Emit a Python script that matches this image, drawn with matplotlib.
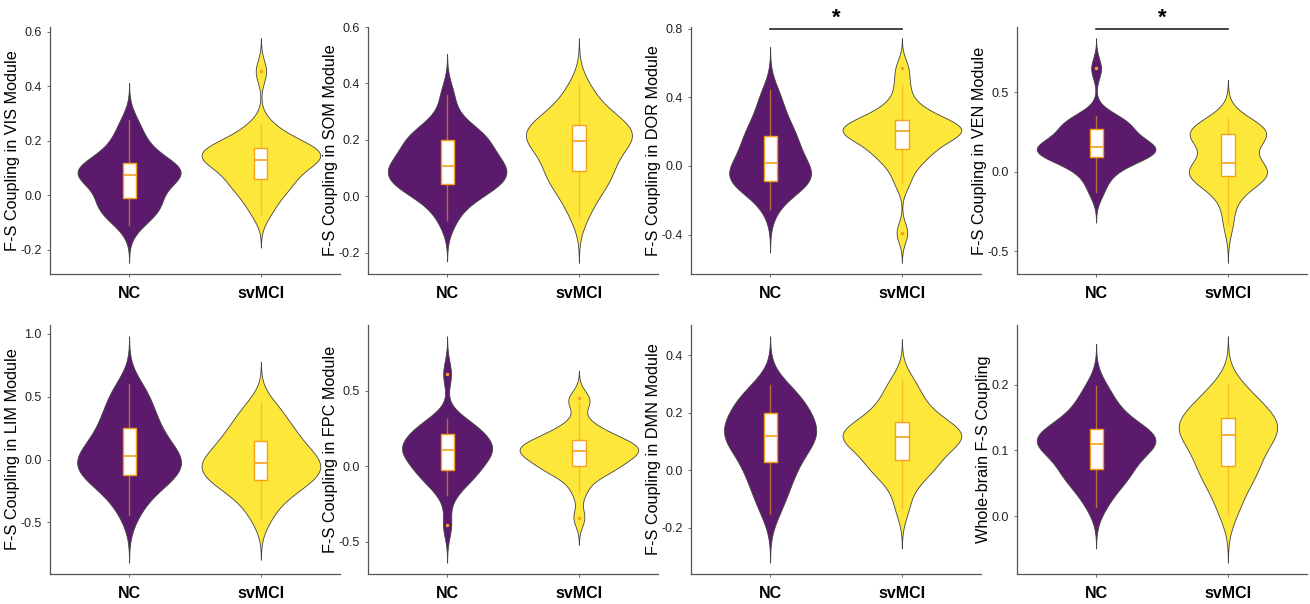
import numpy as np
import matplotlib
matplotlib.use("Agg")
import matplotlib.pyplot as plt
import matplotlib.transforms as mtransforms

plt.rcParams['font.family'] = ['Liberation Sans', 'DejaVu Sans']

# group labels and panel y-axis titles
groups = ["NC", "svMCI"]
ylabels = [
    "F-S Coupling in VIS Module", "F-S Coupling in SOM Module",
    "F-S Coupling in DOR Module", "F-S Coupling in VEN Module",
    "F-S Coupling in LIM Module", "F-S Coupling in FPC Module",
    "F-S Coupling in DMN Module", "Whole-brain F-S Coupling",
]

# per-subject values (estimated)
vis_nc = [-0.11, -0.08, -0.06, -0.05, -0.04, -0.02, -0.01, 0.01, 0.03, 0.05, 0.06, 0.07, 0.075,
          0.08, 0.085, 0.09, 0.10, 0.11, 0.12, 0.13, 0.15, 0.17, 0.20, 0.23, 0.275]
vis_mci = [-0.07, -0.03, 0.00, 0.02, 0.04, 0.05, 0.06, 0.08, 0.10, 0.11, 0.12, 0.125, 0.13,
           0.14, 0.15, 0.155, 0.16, 0.17, 0.175, 0.18, 0.19, 0.21, 0.23, 0.26, 0.455]
som_nc = [-0.085, -0.03, 0.0, 0.02, 0.03, 0.04, 0.045, 0.06, 0.07, 0.08, 0.09, 0.10, 0.108,
          0.115, 0.125, 0.14, 0.155, 0.17, 0.20, 0.20, 0.21, 0.22, 0.24, 0.28, 0.36]
som_mci = [-0.07, -0.02, 0.02, 0.04, 0.06, 0.08, 0.09, 0.11, 0.13, 0.15, 0.17, 0.185, 0.197,
           0.205, 0.21, 0.22, 0.23, 0.24, 0.252, 0.26, 0.27, 0.29, 0.32, 0.35, 0.395]
dor_nc = [-0.25, -0.17, -0.13, -0.11, -0.10, -0.09, -0.09, -0.07, -0.05, -0.03, -0.01, 0.005, 0.02,
          0.04, 0.07, 0.10, 0.125, 0.15, 0.175, 0.20, 0.23, 0.27, 0.32, 0.38, 0.44]
dor_mci = [-0.39, -0.10, -0.02, 0.03, 0.06, 0.08, 0.10, 0.13, 0.15, 0.17, 0.18, 0.19, 0.205,
           0.21, 0.215, 0.22, 0.23, 0.245, 0.265, 0.28, 0.30, 0.33, 0.38, 0.47, 0.57]
ven_nc = [-0.13, -0.05, 0.0, 0.04, 0.07, 0.08, 0.09, 0.11, 0.12, 0.13, 0.14, 0.15, 0.155,
          0.16, 0.17, 0.18, 0.20, 0.23, 0.27, 0.28, 0.29, 0.31, 0.33, 0.35, 0.65]
ven_mci = [-0.33, -0.20, -0.12, -0.07, -0.05, -0.04, -0.03, -0.01, 0.0, 0.01, 0.02, 0.04, 0.055,
           0.09, 0.16, 0.20, 0.22, 0.23, 0.235, 0.245, 0.25, 0.26, 0.28, 0.30, 0.335]
lim_nc = [-0.44, -0.33, -0.25, -0.20, -0.16, -0.14, -0.12, -0.09, -0.06, -0.04, -0.01, 0.01, 0.03,
          0.05, 0.08, 0.12, 0.16, 0.20, 0.25, 0.29, 0.34, 0.40, 0.46, 0.53, 0.60]
lim_mci = [-0.47, -0.36, -0.29, -0.24, -0.20, -0.18, -0.165, -0.13, -0.10, -0.08, -0.06, -0.04, -0.025,
           -0.01, 0.02, 0.05, 0.08, 0.12, 0.15, 0.18, 0.22, 0.27, 0.32, 0.38, 0.45]
fpc_nc = [-0.39, -0.19, -0.12, -0.08, -0.06, -0.04, -0.025, 0.0, 0.03, 0.06, 0.08, 0.10, 0.105,
          0.11, 0.12, 0.13, 0.15, 0.18, 0.21, 0.22, 0.24, 0.26, 0.28, 0.31, 0.61]
fpc_mci = [-0.34, -0.17, -0.08, -0.04, -0.02, -0.01, 0.0, 0.03, 0.05, 0.07, 0.08, 0.09, 0.10,
           0.11, 0.12, 0.13, 0.14, 0.155, 0.17, 0.19, 0.21, 0.24, 0.28, 0.42, 0.45]
dmn_nc = [-0.15, -0.10, -0.07, -0.04, -0.01, 0.01, 0.028, 0.05, 0.07, 0.09, 0.10, 0.11, 0.12,
          0.13, 0.14, 0.15, 0.165, 0.18, 0.20, 0.21, 0.22, 0.24, 0.26, 0.28, 0.295]
dmn_mci = [-0.13, -0.06, -0.02, 0.0, 0.015, 0.025, 0.035, 0.06, 0.08, 0.095, 0.105, 0.11, 0.115,
           0.12, 0.125, 0.13, 0.14, 0.155, 0.168, 0.18, 0.20, 0.22, 0.25, 0.28, 0.315]
wb_nc = [0.015, 0.035, 0.048, 0.058, 0.065, 0.07, 0.072, 0.085, 0.095, 0.10, 0.105, 0.108, 0.11,
         0.113, 0.117, 0.12, 0.125, 0.128, 0.132, 0.138, 0.145, 0.155, 0.167, 0.18, 0.198]
wb_mci = [0.003, 0.025, 0.042, 0.055, 0.065, 0.072, 0.077, 0.088, 0.097, 0.105, 0.112, 0.118, 0.123,
          0.128, 0.133, 0.137, 0.141, 0.145, 0.15, 0.155, 0.162, 0.17, 0.178, 0.188, 0.20]

panel_data = [(vis_nc, vis_mci), (som_nc, som_mci), (dor_nc, dor_mci), (ven_nc, ven_mci),
              (lim_nc, lim_mci), (fpc_nc, fpc_mci), (dmn_nc, dmn_mci), (wb_nc, wb_mci)]
yticks = [[-0.2, 0.0, 0.2, 0.4, 0.6], [-0.2, 0.0, 0.2, 0.4, 0.6], [-0.4, 0.0, 0.4, 0.8],
          [-0.5, 0.0, 0.5], [-0.5, 0.0, 0.5, 1.0], [-0.5, 0.0, 0.5], [-0.2, 0.0, 0.2, 0.4],
          [0.0, 0.1, 0.2]]
significant = [False, False, True, True, False, False, False, False]

colors = ["#5b1a6b", "#fde73a"]
orange = "#f7a21b"


def kde_stats(x):
    # gaussian kde with R's bw.nrd0, not trimmed (cut = 3 bw)
    x = np.asarray(x, float)
    n = len(x)
    iqr = np.subtract(*np.percentile(x, [75, 25]))
    bw = 0.9 * min(x.std(ddof=1), iqr / 1.34) * n ** -0.2
    coords = np.linspace(x.min() - 3 * bw, x.max() + 3 * bw, 512)
    vals = np.exp(-0.5 * ((coords[:, None] - x[None, :]) / bw) ** 2).sum(1)
    vals /= n * bw * np.sqrt(2 * np.pi)
    return dict(coords=coords, vals=vals, mean=x.mean(), median=np.median(x),
                min=coords[0], max=coords[-1])


fig = plt.figure(figsize=(13.1, 6.04), dpi=100)
W, H = 1310, 604
lefts = [50, 368, 691, 1017]
rows = [(27, 274), (325, 574)]
pw = 290

for k, (nc, mci) in enumerate(panel_data):
    r, c = divmod(k, 4)
    top, bot = rows[r]
    ax = fig.add_axes([lefts[c] / W, 1 - bot / H, pw / W, (bot - top) / H])

    stats = [kde_stats(nc), kde_stats(mci)]
    peaks = [s["vals"].max() for s in stats]
    widths = [0.9 * p / max(peaks) for p in peaks]
    parts = ax.violin(stats, positions=[1, 2], widths=widths, showmeans=False,
                      showextrema=False, showmedians=False)
    for body, col in zip(parts["bodies"], colors):
        body.set_facecolor(col)
        body.set_edgecolor("#444444")
        body.set_linewidth(0.6)
        body.set_alpha(1)

    ax.boxplot([nc, mci], positions=[1, 2], widths=0.1, patch_artist=True,
               showcaps=False, whis=1.5,
               boxprops=dict(facecolor="white", edgecolor=orange, linewidth=1.0),
               whiskerprops=dict(color=orange, linewidth=1.0, alpha=0.6),
               medianprops=dict(color=orange, linewidth=1.2),
               flierprops=dict(marker="o", markersize=2.5, markerfacecolor=orange,
                               markeredgecolor="none"))

    lo = min(s["min"] for s in stats)
    hi = max(s["max"] for s in stats)
    pad = 0.05 * (hi - lo)
    ax.set_ylim(lo - pad, hi + pad)
    ax.set_xlim(0.4, 2.6)
    ax.set_xticks([1, 2])
    ax.set_xticklabels(groups, fontsize=11.5, fontweight="bold", color="black")
    ax.set_yticks(yticks[k])
    ax.set_yticklabels([f"{t:.1f}" for t in yticks[k]], fontsize=9, color="#222222")
    ax.set_ylabel(ylabels[k], fontsize=11.7, color="black", labelpad=0)
    ax.tick_params(axis="both", length=2.5, width=0.6, color="#555555")
    ax.tick_params(axis="x", pad=6)
    for side in ["top", "right"]:
        ax.spines[side].set_visible(False)
    for side in ["left", "bottom"]:
        ax.spines[side].set_color("#555555")
        ax.spines[side].set_linewidth(0.9)

    if significant[k]:
        trans = mtransforms.blended_transform_factory(ax.transData, ax.transAxes)
        ax.plot([1, 2], [0.99, 0.99], color="#222222", lw=1.2, transform=trans,
                clip_on=False)
        ax.text(1.5, 1.035, "*", transform=trans, ha="center", va="center",
                fontsize=16, fontweight="bold")

fig.savefig("out.png", dpi=100)
